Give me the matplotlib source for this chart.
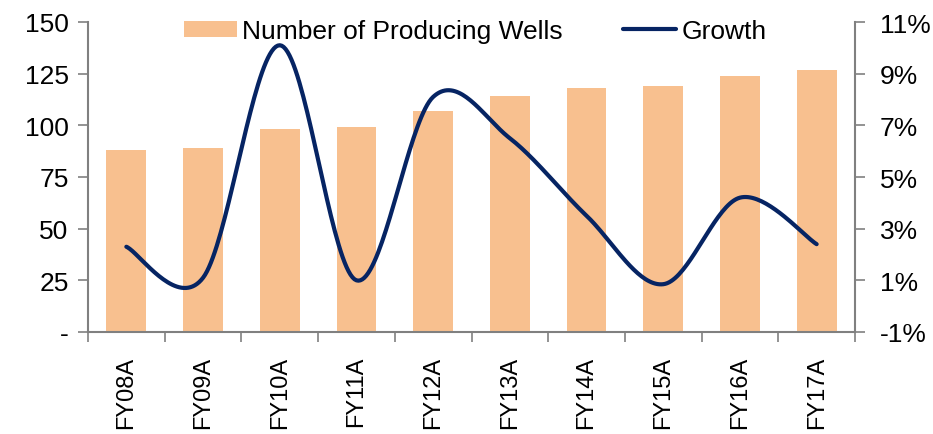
import numpy as np
import matplotlib
matplotlib.use("Agg")
import matplotlib.pyplot as plt
from matplotlib.ticker import FixedLocator

plt.rcParams['font.family'] = ['Liberation Sans', 'DejaVu Sans']

years = ["FY08A", "FY09A", "FY10A", "FY11A", "FY12A",
         "FY13A", "FY14A", "FY15A", "FY16A", "FY17A"]
wells = [88, 89, 98, 99, 107, 114, 118, 119, 124, 127]
growth = [2.3, 1.1, 10.1, 1.0, 8.1, 6.5, 3.5, 0.85, 4.2, 2.4]  # percent

left_ticks = [0, 25, 50, 75, 100, 125, 150]
left_labels = ["-", "25", "50", "75", "100", "125", "150"]
right_ticks = [-1, 1, 3, 5, 7, 9, 11]
right_labels = [f"{t}%" for t in right_ticks]

BAR = "#F8C08F"
LINE = "#062463"
GREY = "#808080"
FS = 19
FS_X = 17


def smooth_curve(xs, ys, n=40):
    """Bezier smoothing through the points (control points at 1/6 of neighbour span)."""
    xs = np.asarray(xs, float)
    ys = np.asarray(ys, float)
    px, py = [], []
    m = len(xs)
    for i in range(m - 1):
        x0, y0 = xs[i], ys[i]
        x3, y3 = xs[i + 1], ys[i + 1]
        xp, yp = (xs[i - 1], ys[i - 1]) if i > 0 else (x0, y0)
        xn, yn = (xs[i + 2], ys[i + 2]) if i + 2 < m else (x3, y3)
        x1, y1 = x0 + (x3 - xp) / 6, y0 + (y3 - yp) / 6
        x2, y2 = x3 - (xn - x0) / 6, y3 - (yn - y0) / 6
        t = np.linspace(0, 1, n)
        bx = (1 - t) ** 3 * x0 + 3 * (1 - t) ** 2 * t * x1 + 3 * (1 - t) * t ** 2 * x2 + t ** 3 * x3
        by = (1 - t) ** 3 * y0 + 3 * (1 - t) ** 2 * t * y1 + 3 * (1 - t) * t ** 2 * y2 + t ** 3 * y3
        px.extend(bx)
        py.extend(by)
    return np.array(px), np.array(py)


fig = plt.figure(figsize=(9.33, 4.35), dpi=100)
ax = fig.add_axes([88 / 933, 1 - 333 / 435, (855 - 88) / 933, (333 - 23) / 435])
ax2 = ax.twinx()

x = np.arange(len(years))
bars = ax.bar(x, wells, width=0.52, color=BAR, zorder=2, label="Number of Producing Wells")

sx, sy = smooth_curve(x, growth)
line, = ax2.plot(sx, sy, color=LINE, lw=3.0, solid_capstyle="round", label="Growth")

ax.set_xlim(-0.5, len(years) - 0.5)
ax.set_ylim(0, 150)
ax2.set_ylim(-1, 11)

ax.set_yticks(left_ticks)
ax.set_yticklabels(left_labels, fontsize=FS)
ax2.set_yticks(right_ticks)
ax2.set_yticklabels(right_labels, fontsize=FS)

ax.set_xticks(x)
ax.set_xticklabels(years, rotation=90, fontsize=FS_X)
ax.xaxis.set_major_locator(FixedLocator(x))
ax.tick_params(axis="x", length=0, pad=17)
ax.set_xticks(np.arange(-0.5, len(years), 1), minor=True)
ax.tick_params(axis="x", which="minor", length=7, width=1.2, color=GREY, direction="out")
ax.tick_params(axis="y", length=7, width=1.2, color=GREY, direction="out", pad=7)
ax2.tick_params(axis="y", length=7, width=1.2, color=GREY, direction="out", pad=11)

for a in (ax, ax2):
    a.spines["top"].set_visible(False)
    for s in ("left", "right", "bottom"):
        a.spines[s].set_color(GREY)
        a.spines[s].set_linewidth(1.5)
ax.spines["right"].set_visible(False)
ax2.spines["left"].set_visible(False)
ax2.spines["bottom"].set_visible(False)

fig.legend([bars, line], ["Number of Producing Wells", "Growth"],
           loc="center left", bbox_to_anchor=(184 / 933, 1 - 32 / 435),
           ncol=2, frameon=False, fontsize=FS, handlelength=2.0,
           handleheight=0.55, handletextpad=0.2, columnspacing=2.3,
           borderpad=0, borderaxespad=0)

fig.savefig("out.png", dpi=100)
